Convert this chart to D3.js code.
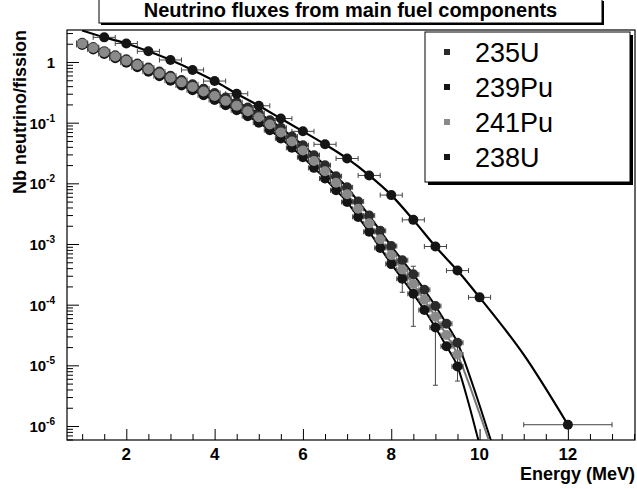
<!DOCTYPE html>
<html><head><meta charset="utf-8">
<script src="https://cdn.jsdelivr.net/npm/d3@7"></script>
<style>body{margin:0;background:#fff} svg{display:block}</style>
</head><body>
<svg id="c" width="637" height="489"></svg>
<script>
const title = "Neutrino fluxes from main fuel components";
const xLabel = "Energy (MeV)";
const yLabel = "Nb neutrino/fission";
const seriesNames = ["235U","239Pu","241Pu","238U"];
const xTicks = [2,4,6,8,10,12];
const xMinorTicks = [1,1.5,2.5,3,3.5,4.5,5,5.5,6.5,7,7.5,8.5,9,9.5,10.5,11,11.5,12.5,13,13.5];
const yTickExps = [0,-1,-2,-3,-4,-5,-6];
const yMinorMult = [2,3,4,5,6,7,8,9];

const energyLow = [1.0,1.25,1.5,1.75,2.0,2.25,2.5,2.75,3.0,3.25,3.5,3.75,4.0,4.25,4.5,4.75,5.0,5.25,5.5,5.75,6.0,6.25,6.5,6.75,7.0,7.25,7.5,7.75,8.0,8.25,8.5,8.75,9.0,9.25,9.5];
const flux235U = [2.07,1.76,1.51,1.29,1.11,0.945,0.81,0.695,0.595,0.505,0.428,0.364,0.308,0.259,0.217,0.178,0.143,0.110,0.0823,0.0590,0.0425,0.0291,0.0199,0.0131,0.00860,0.00502,0.00295,0.00165,0.000925,0.000540,0.000316,0.000176,0.0000950,0.0000485,0.0000236];
const flux239Pu = [1.91,1.61,1.36,1.15,0.97,0.818,0.692,0.584,0.492,0.410,0.342,0.284,0.236,0.194,0.160,0.128,0.100,0.0752,0.0550,0.0385,0.0270,0.0180,0.0120,0.00768,0.00492,0.00280,0.00159,0.000862,0.000470,0.000267,0.000151,0.0000815,0.0000420,0.0000206,0.0000096];
const flux241Pu = [2.00,1.70,1.45,1.23,1.05,0.891,0.759,0.646,0.550,0.462,0.389,0.327,0.275,0.229,0.191,0.155,0.123,0.0933,0.0692,0.0490,0.0347,0.0234,0.0158,0.0102,0.00661,0.00380,0.00219,0.00120,0.000661,0.000380,0.000219,0.000120,0.0000631,0.0000316,0.0000151];

const tailEnergy = [9.75,10.0,10.3];
const tail235U = [7.6e-6,2.2e-6,4.6e-7];
const tail239Pu = [2.4e-6,5.0e-7,1.0e-7];
const tail241Pu = [5.2e-6,1.6e-6,3.8e-7];

const energy238U = [1.5,2,2.5,3,3.5,4,4.5,5,5.5,6,6.5,7,7.5,8,8.5,9,9.5,10,12];
const flux238U = [2.55,2.02,1.50,1.08,0.74,0.485,0.30,0.19,0.117,0.072,0.044,0.0257,0.0135,0.0064,0.0025,0.00091,0.000365,0.000132,0.00000105];
const xErr238U = [0.25,0.25,0.25,0.25,0.25,0.25,0.25,0.25,0.25,0.25,0.25,0.25,0.25,0.25,0.25,0.25,0.25,0.25,1.0];
const fit238Energy = [1.0,1.5,2,2.5,3,3.5,4,4.5,5,5.5,6,6.5,7,7.5,8,8.5,9,9.5,10,11,12];
const fit238Flux = [3.3,2.55,2.02,1.50,1.08,0.74,0.485,0.30,0.19,0.117,0.072,0.044,0.0257,0.0135,0.0064,0.0025,0.00091,0.000365,0.000132,0.000015,0.00000105];
const xErrLow = 0.125;

const errEnergy241Pu = [8.0,8.5,9.0,9.5];
const errLo241Pu = [4.0e-4,4.4e-5,4.7e-6,9e-6];
const errHi241Pu = [8.5e-4,4.3e-4,9.5e-5,2.2e-5];
const errEnergy239Pu = [8.25,9.5];
const errLo239Pu = [1.6e-4,5.5e-6];
const errHi239Pu = [3.6e-4,1.5e-5];

const markerColors = {"235U":"#2b2b2b","239Pu":"#151515","241Pu":"#8a8a8a","238U":"#151515"};
const lineColors = {"235U":"#000","239Pu":"#000","241Pu":"#777","238U":"#000"};

const svg = d3.select("#c");
const L = 67, R = 635, T = 30, B = 440;
const x = d3.scaleLinear().domain([0.657, 13.52]).range([L, R]);
const y = d3.scaleLog().domain([5.88e-7, 3.37]).range([B, T]);
const font = "'Liberation Sans', Arial, Helvetica, sans-serif";

svg.append("rect").attr("width",637).attr("height",489).attr("fill","#fff");

// title box with shadow
svg.append("rect").attr("x",101).attr("y",1).attr("width",503).attr("height",24).attr("fill","#000");
svg.append("rect").attr("x",99).attr("y",-1).attr("width",503).attr("height",24).attr("fill","#fff").attr("stroke","#000").attr("stroke-width",1);
svg.append("text").attr("x",350.5).attr("y",17).attr("text-anchor","middle")
  .attr("font-family",font).attr("font-weight","bold").attr("font-size",20).text(title);

svg.append("defs").append("clipPath").attr("id","clip").append("rect")
  .attr("x",L).attr("y",T).attr("width",R-L).attr("height",B-T);

// axes
const gx = svg.append("g").attr("transform",`translate(0,${B})`)
  .call(d3.axisBottom(x).tickValues(xTicks).tickSize(-11).tickFormat(""));
const gxm = svg.append("g").attr("transform",`translate(0,${B})`)
  .call(d3.axisBottom(x).tickValues(xMinorTicks).tickSize(-6).tickFormat(""));
const yMajor = yTickExps.map(e => Math.pow(10,e));
const yMinor = [];
yTickExps.concat([-7]).forEach(e => yMinorMult.forEach(m => {
  const v = m*Math.pow(10,e);
  if (v >= y.domain()[0] && v <= y.domain()[1]) yMinor.push(v);
}));
const gy = svg.append("g").attr("transform",`translate(${L},0)`)
  .call(d3.axisLeft(y).tickValues(yMajor).tickSize(-12).tickFormat(""));
const gym = svg.append("g").attr("transform",`translate(${L},0)`)
  .call(d3.axisLeft(y).tickValues(yMinor).tickSize(-6).tickFormat(""));
[gx,gxm,gy,gym].forEach(g => { g.select(".domain").remove(); g.selectAll("line").attr("stroke","#000").attr("stroke-width",1); });

svg.append("rect").attr("x",L).attr("y",T).attr("width",R-L).attr("height",B-T)
  .attr("fill","none").attr("stroke","#000").attr("stroke-width",1.2);

// tick labels
svg.append("g").selectAll("text").data(xTicks).join("text")
  .attr("x",d=>x(d)).attr("y",460).attr("text-anchor","middle")
  .attr("font-family",font).attr("font-weight","bold").attr("font-size",17).text(d=>d);
const yl = svg.append("g").selectAll("text").data(yTickExps).join("text")
  .attr("x",55).attr("y",d=>y(Math.pow(10,d))+6).attr("text-anchor","end")
  .attr("font-family",font).attr("font-weight","bold").attr("font-size",15);
yl.each(function(d){
  const t = d3.select(this);
  if (d === 0) { t.text("1"); }
  else {
    t.append("tspan").text("10");
    t.append("tspan").attr("dy",-7).attr("font-size",10).text(String(d));
  }
});

// axis titles
svg.append("text").attr("x",R).attr("y",480).attr("text-anchor","end")
  .attr("font-family",font).attr("font-weight","bold").attr("font-size",18).text(xLabel);
svg.append("text").attr("transform",`translate(26,30) rotate(-90)`).attr("text-anchor","end")
  .attr("font-family",font).attr("font-weight","bold").attr("font-size",18).text(yLabel);

// data
const plot = svg.append("g").attr("clip-path","url(#clip)");
const lineGen = d3.line().x(d=>x(d[0])).y(d=>y(d[1])).curve(d3.curveMonotoneX);
const lowSeries = [
  {name:"235U", v:flux235U, tail:tail235U},
  {name:"239Pu", v:flux239Pu, tail:tail239Pu},
  {name:"241Pu", v:flux241Pu, tail:tail241Pu}
];
lowSeries.forEach(s => {
  const pts = energyLow.map((e,i)=>[e,s.v[i]]).concat(tailEnergy.map((e,i)=>[e,s.tail[i]]));
  plot.append("path").attr("d",lineGen(pts)).attr("fill","none")
    .attr("stroke",lineColors[s.name]).attr("stroke-width",2);
});
plot.append("path").attr("d",lineGen(fit238Energy.map((e,i)=>[e,fit238Flux[i]])))
  .attr("fill","none").attr("stroke","#000").attr("stroke-width",2.2);

// error bars
const eb = plot.append("g").attr("stroke","#444").attr("stroke-width",1);
function hbar(e, v, w){
  eb.append("line").attr("x1",x(e-w)).attr("x2",x(e+w)).attr("y1",y(v)).attr("y2",y(v));
  eb.append("line").attr("x1",x(e-w)).attr("x2",x(e-w)).attr("y1",y(v)-2.5).attr("y2",y(v)+2.5);
  eb.append("line").attr("x1",x(e+w)).attr("x2",x(e+w)).attr("y1",y(v)-2.5).attr("y2",y(v)+2.5);
}
function vbar(e, lo, hi){
  eb.append("line").attr("x1",x(e)).attr("x2",x(e)).attr("y1",y(lo)).attr("y2",y(hi));
  eb.append("line").attr("x1",x(e)-2.5).attr("x2",x(e)+2.5).attr("y1",y(lo)).attr("y2",y(lo));
  eb.append("line").attr("x1",x(e)-2.5).attr("x2",x(e)+2.5).attr("y1",y(hi)).attr("y2",y(hi));
}
lowSeries.forEach(s => energyLow.forEach((e,i)=>hbar(e,s.v[i],xErrLow)));
energy238U.forEach((e,i)=>hbar(e,flux238U[i],xErr238U[i]));
errEnergy241Pu.forEach((e,i)=>vbar(e,errLo241Pu[i],errHi241Pu[i]));
errEnergy239Pu.forEach((e,i)=>vbar(e,errLo239Pu[i],errHi239Pu[i]));

// markers
lowSeries.forEach(s => {
  plot.append("g").selectAll("circle").data(energyLow.map((e,i)=>[e,s.v[i]])).join("circle")
    .attr("cx",d=>x(d[0])).attr("cy",d=>y(d[1])).attr("r",5).attr("fill",markerColors[s.name]);
});
plot.append("g").selectAll("circle").data(energy238U.map((e,i)=>[e,flux238U[i]])).join("circle")
  .attr("cx",d=>x(d[0])).attr("cy",d=>y(d[1])).attr("r",5).attr("fill",markerColors["238U"]);

// legend with shadow
const lg = svg.append("g");
lg.append("rect").attr("x",428).attr("y",35).attr("width",205).attr("height",150).attr("fill","#000");
lg.append("rect").attr("x",425).attr("y",32).attr("width",205).attr("height",150).attr("fill","#fff").attr("stroke","#000").attr("stroke-width",1);
const rowY = d3.scalePoint().domain(seriesNames).range([52,157]);
seriesNames.forEach(n => {
  lg.append("rect").attr("x",444).attr("y",rowY(n)-3).attr("width",6).attr("height",6).attr("fill",markerColors[n]);
  lg.append("text").attr("x",475).attr("y",rowY(n)+9.5).attr("font-family",font).attr("font-size",27).text(n);
});
</script>
</body></html>
